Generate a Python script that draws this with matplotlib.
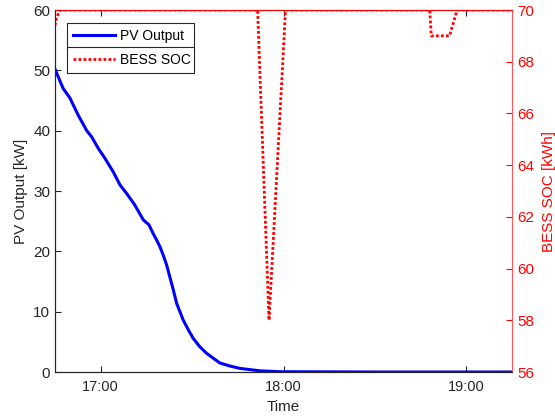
import pandas as pd
import matplotlib
matplotlib.use("Agg")
import matplotlib.pyplot as plt
import matplotlib.dates as mdates

plt.rcParams['font.family'] = ['Liberation Sans', 'DejaVu Sans']

# Datos
pv_horas = ["16:45:00", "16:47:40", "16:49:55", "16:52:35", "16:55:25", "16:57:00",
            "16:59:10", "17:01:25", "17:04:05", "17:06:20", "17:08:30", "17:11:10",
            "17:14:00", "17:15:50", "17:17:10", "17:18:20", "17:19:25", "17:20:30",
            "17:21:40", "17:22:40", "17:23:50", "17:24:55", "17:26:00", "17:27:05",
            "17:28:45", "17:30:20", "17:32:30", "17:34:45", "17:36:55", "17:39:05",
            "17:42:20", "17:45:40", "17:52:10", "17:58:45", "18:30:00", "19:15:00"]
pv_kw = [50.2, 47.0, 45.4, 42.6, 40.0, 39.0,
         37.1, 35.4, 33.2, 31.0, 29.6, 27.7,
         25.2, 24.4, 23.0, 21.9, 20.8, 19.4,
         17.7, 15.8, 13.6, 11.4, 10.0, 8.6,
         7.0, 5.6, 4.2, 3.1, 2.3, 1.5,
         1.0, 0.6, 0.2, 0.05, 0.0, 0.0]

soc_horas = ["16:45:00", "16:45:30", "16:46:40", "17:51:30", "17:55:15", "18:00:40",
             "18:48:00", "18:48:30", "18:54:30", "18:57:00", "19:15:00"]
soc_kwh = [69.4, 69.7, 70.0, 70.0, 58.0, 70.0,
           70.0, 69.0, 69.0, 70.0, 70.0]

ticks_x = ["17:00", "18:00", "19:00"]
ticks_soc = [56, 58, 60, 62, 64, 66, 68, 70]
ticks_pv = [0, 10, 20, 30, 40, 50, 60]

fecha = "2020-01-01 "
t_pv = pd.to_datetime([fecha + h for h in pv_horas])
t_soc = pd.to_datetime([fecha + h for h in soc_horas])

gris = '#262626'
rojo = '#ff0000'

fig = plt.figure(figsize=(5.55, 4.19), dpi=100)
ax = fig.add_axes([55/555, 47/419, 457/555, 362/419])
ax2 = ax.twinx()

l1, = ax.plot(t_pv, pv_kw, color='#0000ff', linewidth=2.2, label='PV Output')
l2, = ax2.plot(t_soc, soc_kwh, color=rojo, linestyle=(0, (1, 0.8)), linewidth=2.0,
               label='BESS SOC')

ax.set_xlim(pd.Timestamp(fecha + "16:45"), pd.Timestamp(fecha + "19:15"))
ax.set_ylim(0, 60)
ax2.set_ylim(56, 70)
ax.set_xticks(pd.to_datetime([fecha + h for h in ticks_x]))
ax.xaxis.set_major_formatter(mdates.DateFormatter('%H:%M'))
ax.set_yticks(ticks_pv)
ax2.set_yticks(ticks_soc)

ax.set_xlabel('Time', fontsize=11, color=gris)
ax.set_ylabel('PV Output [kW]', fontsize=11, color=gris)
ax2.set_ylabel('BESS SOC [kWh]', fontsize=11, color=rojo, labelpad=6)

ax.tick_params(axis='both', direction='in', length=4, colors=gris, top=True)
ax2.tick_params(axis='y', direction='in', length=4, labelsize=11, colors=rojo)
ax.tick_params(axis='y', labelsize=11)
ax.tick_params(axis='x', labelsize=10.5, pad=6)
for tick in ax.xaxis.get_major_ticks():
    tick.tick2line.set_color(rojo)

for lado in ['left', 'bottom']:
    ax.spines[lado].set_color(gris)
    ax2.spines[lado].set_color(gris)
ax.spines['top'].set_color(rojo)
ax2.spines['top'].set_color(rojo)
ax2.spines['right'].set_color('#ff5555')
ax.spines['right'].set_visible(False)

# dos leyendas apiladas
estilo = dict(loc='upper left', mode='expand', borderaxespad=0, fancybox=False,
              edgecolor=gris, framealpha=1, fontsize=10, handlelength=3.0,
              handletextpad=0.4, borderpad=0.45)
leg1 = ax2.legend(handles=[l1], bbox_to_anchor=(0.0263, 0.898, 0.278, 0.066), **estilo)
leg1.get_frame().set_linewidth(0.8)
leg1._legend_box.align = "left"
ax2.add_artist(leg1)
leg2 = ax2.legend(handles=[l2], bbox_to_anchor=(0.0263, 0.832, 0.278, 0.066), **estilo)
leg2.get_frame().set_linewidth(0.8)

fig.savefig('out.png', dpi=100)
